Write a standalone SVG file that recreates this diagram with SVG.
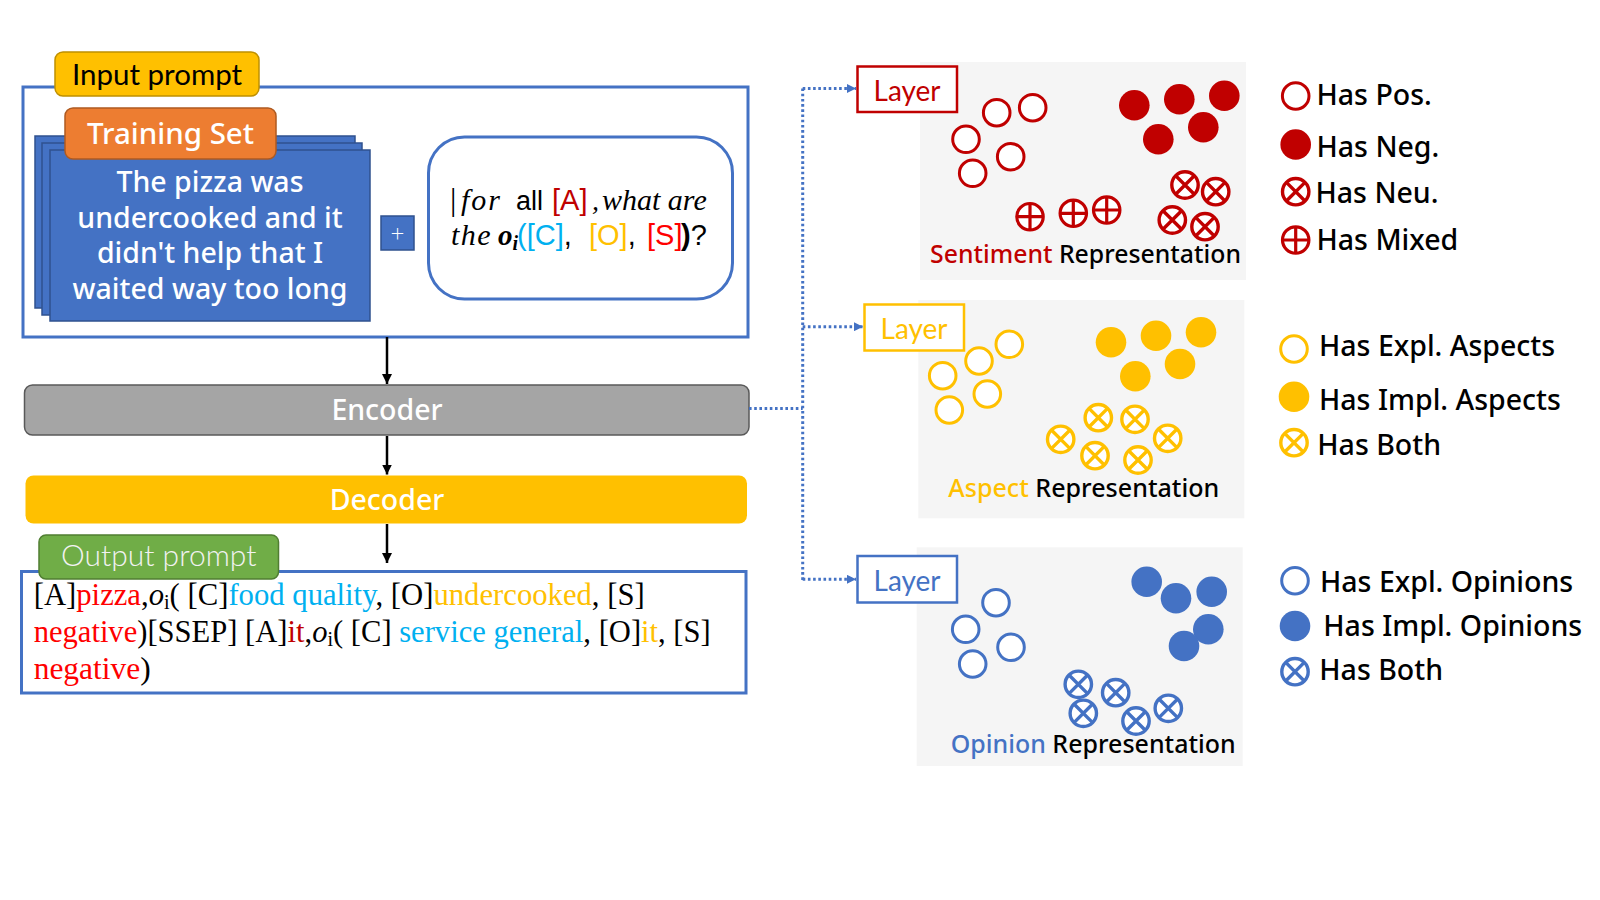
<svg xmlns="http://www.w3.org/2000/svg" xmlns:xlink="http://www.w3.org/1999/xlink" width="1600" height="900" viewBox="0 0 1600 900">
<style>
.cal{font-family:Lato,"Open Sans",sans-serif;}
.yh{font-family:"Noto Sans","Open Sans",sans-serif;font-weight:500;}
.ser{font-family:"Liberation Serif",serif;}
.ari{font-family:"Liberation Sans",Arial,sans-serif;}
.dot{fill:none;stroke:#4472C4;stroke-width:3;stroke-dasharray:2.6 2.6;}
.arr{stroke:#000;stroke-width:2.5;fill:none;}
.panel{fill:#F5F5F5;}
.leg{font-size:28.5px;fill:#000;}
</style>
<defs>
<marker id="ab" markerWidth="10" markerHeight="10" refX="10" refY="5" orient="auto" markerUnits="userSpaceOnUse"><path d="M0,0L10,5L0,10z" fill="#000"/></marker>
<marker id="bb" markerWidth="9" markerHeight="9" refX="9" refY="4.5" orient="auto" markerUnits="userSpaceOnUse"><path d="M0,0L9,4.5L0,9z" fill="#4472C4"/></marker>
<g id="ho"><circle r="13.3" fill="#fff" stroke="currentColor" stroke-width="3"/></g>
<g id="fi"><circle r="15.3" fill="currentColor"/></g>
<g id="xc"><circle r="13.2" fill="#fff" stroke="currentColor" stroke-width="3.4"/><path d="M-9.3,-9.3L9.3,9.3M9.3,-9.3L-9.3,9.3" stroke="currentColor" stroke-width="3.4"/></g>
<g id="pc"><circle r="13.2" fill="#fff" stroke="currentColor" stroke-width="3.2"/><path d="M-13.2,0H13.2M0,-13.2V13.2" stroke="currentColor" stroke-width="3.2"/></g>
</defs>
<rect width="1600" height="900" fill="#fff"/>

<g id="input-prompt">
<rect x="23" y="87" width="725" height="250" fill="#fff" stroke="#4472C4" stroke-width="3"/>
<rect x="55" y="52" width="204" height="44" rx="8" fill="#FFC000" stroke="#BF9000" stroke-width="1.5"/>
<text class="cal" x="157" y="85" font-size="29.5" text-anchor="middle" fill="#000">Input prompt</text>
</g>

<g id="training-set">
<rect x="35" y="136" width="320" height="172" fill="#4472C4" stroke="#2F528F" stroke-width="1.5"/>
<rect x="42" y="143" width="320" height="172" fill="#4472C4" stroke="#2F528F" stroke-width="1.5"/>
<rect x="50" y="150" width="320" height="171" fill="#4472C4" stroke="#2F528F" stroke-width="1.5"/>
<g class="yh" font-size="28.5" fill="#fff" text-anchor="middle">
<text x="210" y="192">The pizza was</text>
<text x="210" y="228">undercooked and it</text>
<text x="210" y="263">didn't help that I</text>
<text x="210" y="299">waited way too long</text>
</g>
<rect x="65" y="108" width="211" height="51" rx="8" fill="#ED7D31" stroke="#AE5A21" stroke-width="1.5"/>
<text class="yh" x="170.5" y="144" font-size="29.5" text-anchor="middle" fill="#fff">Training Set</text>
</g>

<g id="plus">
<rect x="381" y="216" width="33" height="34" fill="#4472C4" stroke="#2F528F" stroke-width="1.5"/>
<text class="cal" x="397.5" y="241" font-size="24" font-weight="300" text-anchor="middle" fill="#fff">+</text>
</g>

<g id="query-template">
<rect x="428.5" y="137" width="304" height="162" rx="36" fill="#fff" stroke="#4472C4" stroke-width="3"/>
<text y="210" font-size="28">
<tspan class="ser" x="450" font-size="32">|</tspan><tspan class="ser" x="461" font-style="italic" font-size="30" letter-spacing="2">for</tspan><tspan class="ari" x="516" font-size="27">all</tspan><tspan class="ari" x="552" font-size="29" fill="#C00000">[A]</tspan><tspan class="ser" x="592" font-style="italic">,</tspan><tspan class="ser" x="602" font-style="italic" font-size="30">what are</tspan>
</text>
<text y="245" font-size="29">
<tspan class="ser" x="451" font-style="italic" font-size="30" letter-spacing="1.5">the</tspan><tspan class="ser" x="498" font-style="italic" font-weight="bold" font-size="29">o</tspan><tspan class="ser" font-style="italic" font-weight="bold" font-size="20" dy="5">i</tspan><tspan class="ari" x="517" dy="-5" fill="#00B0F0">([C]</tspan><tspan class="ari" fill="#000">, </tspan><tspan class="ari" x="589" fill="#FFC000">[O]</tspan><tspan class="ari" fill="#000">, </tspan><tspan class="ari" x="647" fill="#FF0000">[S]</tspan><tspan class="ari" x="681" font-weight="bold">)</tspan><tspan class="ari">?</tspan>
</text>
</g>

<g id="encoder">
<rect x="24.5" y="385" width="724.5" height="50" rx="8" fill="#A5A5A5" stroke="#595959" stroke-width="1.5"/>
<text class="yh" x="387" y="420" font-size="28.5" text-anchor="middle" fill="#fff">Encoder</text>
</g>

<g id="decoder">
<rect x="25.5" y="475.5" width="721.5" height="48" rx="8" fill="#FFC000"/>
<text class="yh" x="387" y="510" font-size="28.5" text-anchor="middle" fill="#fff">Decoder</text>
</g>

<g id="output-prompt">
<rect x="21.5" y="571.5" width="724.5" height="121.5" fill="#fff" stroke="#4472C4" stroke-width="3"/>
<rect x="39" y="535" width="239.5" height="44" rx="7" fill="#70AD47" stroke="#507E32" stroke-width="1.5"/>
<text class="cal" x="158.7" y="566" font-size="30" font-weight="300" text-anchor="middle" fill="#F2F2F2">Output prompt</text>
<g class="ser" font-size="30.5" fill="#000">
<text x="33.7" y="605" textLength="611" lengthAdjust="spacingAndGlyphs">[A]<tspan fill="#FF0000">pizza</tspan>,<tspan font-style="italic">o</tspan><tspan font-size="20" dy="4">i</tspan><tspan dy="-4">( [C]</tspan><tspan fill="#00B0F0">food quality</tspan>, [O]<tspan fill="#FFC000">undercooked</tspan>, [S]</text>
<text x="33.7" y="642" textLength="677" lengthAdjust="spacingAndGlyphs"><tspan fill="#FF0000">negative</tspan>)[SSEP] [A]<tspan fill="#C00000">it</tspan>,<tspan font-style="italic">o</tspan><tspan font-size="20" dy="4">i</tspan><tspan dy="-4">( [C] </tspan><tspan fill="#00B0F0">service general</tspan>, [O]<tspan fill="#FFC000">it</tspan>, [S]</text>
<text x="33.7" y="678.6" textLength="117" lengthAdjust="spacingAndGlyphs"><tspan fill="#FF0000">negative</tspan>)</text>
</g>
</g>

<g id="connectors">
<path class="arr" d="M387,337V384" marker-end="url(#ab)"/>
<path class="arr" d="M387,436V474.5" marker-end="url(#ab)"/>
<path class="arr" d="M387,524V563" marker-end="url(#ab)"/>
<path class="dot" d="M749,408.5H802.7"/>
<path class="dot" d="M802.7,88.5V580"/>
<path class="dot" d="M802.7,88.5H856" marker-end="url(#bb)"/>
<path class="dot" d="M802.7,326.7H863" marker-end="url(#bb)"/>
<path class="dot" d="M802.7,579.3H856" marker-end="url(#bb)"/>
</g>

<g id="sentiment-representation">
<rect class="panel" x="920" y="62" width="326" height="218"/>
<g color="#C00000">
<use xlink:href="#ho" x="996.7" y="112.7"/><use xlink:href="#ho" x="1032.7" y="107.7"/><use xlink:href="#ho" x="966" y="139.3"/><use xlink:href="#ho" x="1010.7" y="156.7"/><use xlink:href="#ho" x="972.7" y="173.3"/>
<use xlink:href="#fi" x="1134.3" y="105.3"/><use xlink:href="#fi" x="1179.3" y="99.3"/><use xlink:href="#fi" x="1224.3" y="95.7"/><use xlink:href="#fi" x="1203.3" y="127.3"/><use xlink:href="#fi" x="1158.3" y="139.3"/>
<use xlink:href="#pc" x="1030" y="216.7"/><use xlink:href="#pc" x="1073.3" y="213.3"/><use xlink:href="#pc" x="1106.7" y="210"/>
<use xlink:href="#xc" x="1185" y="185"/><use xlink:href="#xc" x="1215.7" y="191.7"/><use xlink:href="#xc" x="1172.3" y="220"/><use xlink:href="#xc" x="1205" y="226.7"/>
</g>
<text class="yh" x="930" y="263.3" font-size="25" textLength="311" lengthAdjust="spacingAndGlyphs"><tspan fill="#C00000">Sentiment</tspan><tspan fill="#000"> Representation</tspan></text>
</g>

<g id="sentiment-layer">
<rect x="857.5" y="66.5" width="99.5" height="45.5" fill="#fff" stroke="#C00000" stroke-width="2.5"/>
<text class="cal" x="907" y="100.5" font-size="28" text-anchor="middle" fill="#C00000">Layer</text>
</g>

<g id="sentiment-legend" class="yh">
<use xlink:href="#ho" x="1295.7" y="96" color="#C00000"/>
<use xlink:href="#fi" x="1295.7" y="144.5" color="#C00000"/>
<use xlink:href="#xc" x="1295.7" y="191.7" color="#C00000"/>
<use xlink:href="#pc" x="1295.7" y="240" color="#C00000"/>
<text class="leg" x="1316.5" y="105">Has Pos.</text>
<text class="leg" x="1316.5" y="156.5">Has Neg.</text>
<text class="leg" x="1315.5" y="203">Has Neu.</text>
<text class="leg" x="1316.5" y="250">Has Mixed</text>
</g>

<g id="aspect-representation">
<rect class="panel" x="918.3" y="300" width="326" height="218.3"/>
<g color="#FFC000">
<use xlink:href="#ho" x="1009.3" y="344.3"/><use xlink:href="#ho" x="979" y="361"/><use xlink:href="#ho" x="942.7" y="375.7"/><use xlink:href="#ho" x="987.3" y="394"/><use xlink:href="#ho" x="949.3" y="410"/>
<use xlink:href="#fi" x="1111" y="342.3"/><use xlink:href="#fi" x="1156" y="335.7"/><use xlink:href="#fi" x="1201" y="332.3"/><use xlink:href="#fi" x="1180" y="364"/><use xlink:href="#fi" x="1135.3" y="376.3"/>
<use xlink:href="#xc" x="1098.3" y="417.7"/><use xlink:href="#xc" x="1135" y="419.3"/><use xlink:href="#xc" x="1060.7" y="439.3"/><use xlink:href="#xc" x="1167.7" y="438.3"/><use xlink:href="#xc" x="1095" y="455.7"/><use xlink:href="#xc" x="1138" y="460"/>
</g>
<text class="yh" x="948.3" y="496.7" font-size="25" textLength="271" lengthAdjust="spacingAndGlyphs"><tspan fill="#FFC000">Aspect</tspan><tspan fill="#000"> Representation</tspan></text>
</g>

<g id="aspect-layer">
<rect x="864.5" y="304.5" width="99.5" height="46" fill="#fff" stroke="#FFC000" stroke-width="2.5"/>
<text class="cal" x="914" y="338.5" font-size="28" text-anchor="middle" fill="#FFC000">Layer</text>
</g>

<g id="aspect-legend" class="yh">
<use xlink:href="#ho" x="1294" y="349" color="#FFC000"/>
<use xlink:href="#fi" x="1294" y="396.7" color="#FFC000"/>
<use xlink:href="#xc" x="1294" y="442.7" color="#FFC000"/>
<text class="leg" x="1319" y="356">Has Expl. Aspects</text>
<text class="leg" x="1319" y="410">Has Impl. Aspects</text>
<text class="leg" x="1317.3" y="455">Has Both</text>
</g>

<g id="opinion-representation">
<rect class="panel" x="916.7" y="547.3" width="326" height="218.7"/>
<g color="#4472C4">
<use xlink:href="#ho" x="996" y="602.7"/><use xlink:href="#ho" x="965.7" y="629.3"/><use xlink:href="#ho" x="1011" y="647.3"/><use xlink:href="#ho" x="972.7" y="664"/>
<use xlink:href="#fi" x="1146.7" y="581.7"/><use xlink:href="#fi" x="1176" y="598.3"/><use xlink:href="#fi" x="1211.7" y="591.7"/><use xlink:href="#fi" x="1208.3" y="629.3"/><use xlink:href="#fi" x="1184" y="646"/>
<use xlink:href="#xc" x="1078.3" y="684.3"/><use xlink:href="#xc" x="1115.7" y="692.7"/><use xlink:href="#xc" x="1083.3" y="713.3"/><use xlink:href="#xc" x="1136" y="721"/><use xlink:href="#xc" x="1168.3" y="708.3"/>
</g>
<text class="yh" x="950.7" y="753.3" font-size="25" textLength="285" lengthAdjust="spacingAndGlyphs"><tspan fill="#4472C4">Opinion</tspan><tspan fill="#000"> Representation</tspan></text>
</g>

<g id="opinion-layer">
<rect x="857.5" y="556" width="99.5" height="46.5" fill="#fff" stroke="#4472C4" stroke-width="2.5"/>
<text class="cal" x="907" y="590.5" font-size="28" text-anchor="middle" fill="#4472C4">Layer</text>
</g>

<g id="opinion-legend" class="yh">
<use xlink:href="#ho" x="1295" y="580.7" color="#4472C4"/>
<use xlink:href="#fi" x="1295" y="626" color="#4472C4"/>
<use xlink:href="#xc" x="1295" y="671.7" color="#4472C4"/>
<text class="leg" x="1320" y="591.7">Has Expl. Opinions</text>
<text class="leg" x="1323.3" y="636">Has Impl. Opinions</text>
<text class="leg" x="1319.3" y="680">Has Both</text>
</g>
</svg>
